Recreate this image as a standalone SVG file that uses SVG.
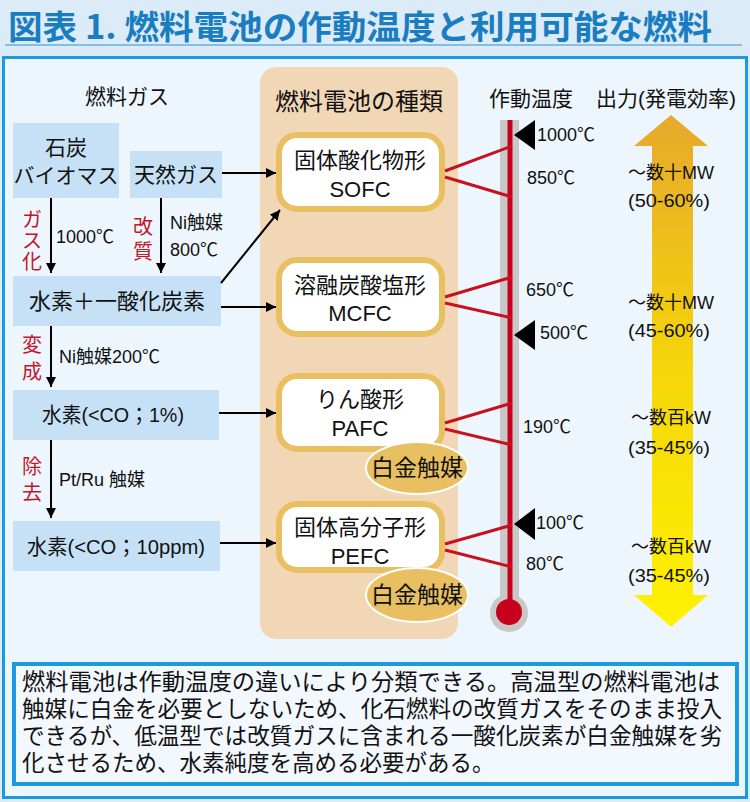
<svg xmlns="http://www.w3.org/2000/svg" width="750" height="802" viewBox="0 0 750 802">
<defs>
<marker id="ah" viewBox="0 0 10 10" refX="10" refY="5" markerWidth="10" markerHeight="10" markerUnits="userSpaceOnUse" orient="auto">
<path d="M0,0 L10,5 L0,10 z" fill="#000"/>
</marker>
<linearGradient id="outg" x1="0" y1="0" x2="0" y2="1">
<stop offset="0" stop-color="#e6a92c"/>
<stop offset="0.5" stop-color="#f5d60a"/>
<stop offset="1" stop-color="#fff200"/>
</linearGradient>
<style>
text{font-family:"Liberation Sans","Noto Sans CJK JP",sans-serif;fill:#111;dominant-baseline:central}
.mid{text-anchor:middle}
.red{fill:#c0182a;font-size:20px}
.lbl{font-size:18px}
.fb{fill:#c6e1f6}
.cn{stroke:#000;stroke-width:2;fill:none}
.rl{stroke:#c8101e;stroke-width:3;fill:none}
.fc{fill:#fff;stroke:#e8c062;stroke-width:6}
.pt{fill:#e8c062;stroke:#fff;stroke-width:2}
.out{font-size:18px;text-anchor:middle}
.pc{font-size:19px;text-anchor:middle}
</style>
</defs>
<rect x="0" y="0" width="750" height="802" fill="#dcebf8"/>
<text x="8" y="25" font-size="33" font-weight="bold" textLength="704" lengthAdjust="spacingAndGlyphs" style="fill:#1a7dc0;font-family:'Noto Sans CJK JP',sans-serif">図表 1. 燃料電池の作動温度と利用可能な燃料</text>
<line x1="5" y1="45" x2="742" y2="45" stroke="#6aaee0" stroke-width="1.5"/>
<rect x="3.5" y="57.5" width="743" height="740" fill="#eef6fd" stroke="#1a9be0" stroke-width="3"/>

<g id="fuel-header"><text class="mid" x="127" y="96" font-size="21">燃料ガス</text></g>

<g id="coal"><rect class="fb" x="13" y="123" width="106" height="75"/>
<text class="mid" x="66" y="147" font-size="21">石炭</text>
<text class="mid" x="66" y="175" font-size="21">バイオマス</text></g>
<g id="natgas"><rect class="fb" x="130" y="151" width="92" height="47"/>
<text class="mid" x="176" y="174" font-size="21">天然ガス</text></g>
<g id="h2co"><rect class="fb" x="13" y="276" width="208" height="50"/>
<text class="mid" x="117" y="301" font-size="22">水素＋一酸化炭素</text></g>
<g id="h2-1"><rect class="fb" x="13" y="390" width="206" height="50"/>
<text class="mid" x="113" y="414" font-size="21" textLength="142" lengthAdjust="spacingAndGlyphs">水素(&lt;CO；1%)</text></g>
<g id="h2-10"><rect class="fb" x="13" y="521" width="207" height="50"/>
<text class="mid" x="116" y="546" font-size="21" textLength="178" lengthAdjust="spacingAndGlyphs">水素(&lt;CO；10ppm)</text></g>

<g id="step-labels">
<text class="red mid" x="32" y="220">ガ</text><text class="red mid" x="32" y="241">ス</text><text class="red mid" x="32" y="262">化</text>
<text class="lbl" x="56" y="237">1000℃</text>
<text class="red mid" x="143" y="227">改</text><text class="red mid" x="143" y="252">質</text>
<text class="lbl" x="170" y="223">Ni触媒</text><text class="lbl" x="170" y="250">800℃</text>
<text class="red mid" x="32" y="345">変</text><text class="red mid" x="32" y="372">成</text>
<text class="lbl" x="59" y="357">Ni触媒200℃</text>
<text class="red mid" x="32" y="467">除</text><text class="red mid" x="32" y="493">去</text>
<text class="lbl" x="59" y="480">Pt/Ru 触媒</text>
</g>

<g id="type-panel"><rect x="260" y="67" width="198" height="572" rx="16" fill="#f2d7b6"/>
<text class="mid" x="359" y="101" font-size="24">燃料電池の種類</text></g>

<g id="sofc"><rect class="fc" x="279" y="135" width="163" height="74" rx="18"/>
<text class="mid" x="360" y="160" font-size="22">固体酸化物形</text>
<text class="mid" x="360" y="189" font-size="22">SOFC</text></g>
<g id="mcfc"><rect class="fc" x="279" y="260" width="163" height="74" rx="18"/>
<text class="mid" x="360" y="285" font-size="22">溶融炭酸塩形</text>
<text class="mid" x="360" y="313" font-size="22">MCFC</text></g>
<g id="pafc"><rect class="fc" x="279" y="376" width="163" height="73" rx="18"/>
<text class="mid" x="360" y="399" font-size="22">りん酸形</text>
<text class="mid" x="360" y="428" font-size="22">PAFC</text>
<ellipse class="pt" cx="417" cy="468" rx="51" ry="26"/>
<text class="mid" x="417" y="468" font-size="23">白金触媒</text></g>
<g id="pefc"><rect class="fc" x="279" y="504" width="163" height="66" rx="18"/>
<text class="mid" x="360" y="527" font-size="22">固体高分子形</text>
<text class="mid" x="360" y="556" font-size="22">PEFC</text>
<ellipse class="pt" cx="417" cy="595" rx="51" ry="27"/>
<text class="mid" x="417" y="595" font-size="23">白金触媒</text></g>

<g id="thermometer">
<text class="mid" x="531" y="98" font-size="21">作動温度</text>
<rect x="500" y="120" width="19" height="495" fill="#c8c8c8"/>
<circle cx="509" cy="613" r="19" fill="#c8c8c8"/>
<line x1="510" y1="120" x2="510" y2="612" stroke="#c8001e" stroke-width="5"/>
<circle cx="509" cy="612" r="13" fill="#c8001e"/>
<path d="M514,135 L535,120 L535,150 z" fill="#000"/>
<path d="M514,335 L535,320 L535,350 z" fill="#000"/>
<path d="M514,524 L535,508 L535,540 z" fill="#000"/>
<text class="lbl" x="537" y="135">1000℃</text>
<text class="lbl" x="527" y="178">850℃</text>
<text class="lbl" x="526" y="290">650℃</text>
<text class="lbl" x="540" y="333">500℃</text>
<text class="lbl" x="523" y="427">190℃</text>
<text class="lbl" x="536" y="523">100℃</text>
<text class="lbl" x="526" y="564">80℃</text>
</g>

<g id="output">
<text x="596" y="98" font-size="21">出力(発電効率)</text>
<path d="M671,115 L708,146 L693,146 L693,595 L708,595 L671,627 L634,595 L652,595 L652,146 L634,146 z" fill="url(#outg)"/>
<text class="out" x="671" y="173">～数十MW</text>
<text class="pc" x="669" y="200" textLength="82" lengthAdjust="spacingAndGlyphs">(50-60%)</text>
<text class="out" x="671" y="303">～数十MW</text>
<text class="pc" x="669" y="330" textLength="82" lengthAdjust="spacingAndGlyphs">(45-60%)</text>
<text class="out" x="671" y="418">～数百kW</text>
<text class="pc" x="669" y="447" textLength="82" lengthAdjust="spacingAndGlyphs">(35-45%)</text>
<text class="out" x="671" y="547">～数百kW</text>
<text class="pc" x="669" y="575" textLength="82" lengthAdjust="spacingAndGlyphs">(35-45%)</text>
</g>

<g id="connectors">
<line class="cn" x1="51" y1="198" x2="51" y2="273" marker-end="url(#ah)"/>
<line class="cn" x1="161" y1="198" x2="161" y2="273" marker-end="url(#ah)"/>
<line class="cn" x1="51" y1="326" x2="51" y2="387" marker-end="url(#ah)"/>
<line class="cn" x1="51" y1="440" x2="51" y2="518" marker-end="url(#ah)"/>
<line class="cn" x1="222" y1="173" x2="276" y2="173" marker-end="url(#ah)"/>
<line class="cn" x1="221" y1="307" x2="276" y2="307" marker-end="url(#ah)"/>
<line class="cn" x1="221" y1="283" x2="280" y2="210" marker-end="url(#ah)"/>
<line class="cn" x1="219" y1="413" x2="276" y2="413" marker-end="url(#ah)"/>
<line class="cn" x1="220" y1="543" x2="276" y2="543" marker-end="url(#ah)"/>
<polyline class="rl" points="512,146 445,171"/>
<polyline class="rl" points="445,177 512,197"/>
<polyline class="rl" points="512,277 445,297"/>
<polyline class="rl" points="445,303 512,318"/>
<polyline class="rl" points="512,403 445,423"/>
<polyline class="rl" points="445,429 512,445"/>
<polyline class="rl" points="512,525 445,544"/>
<polyline class="rl" points="445,550 512,567"/>
</g>

<g id="note">
<rect x="14" y="664" width="723" height="120" fill="#f2f8fe" stroke="#1a9be0" stroke-width="4"/>
<text x="22" y="682" font-size="22.5" textLength="698" lengthAdjust="spacingAndGlyphs">燃料電池は作動温度の違いにより分類できる。高温型の燃料電池は</text>
<text x="22" y="709" font-size="22.5" textLength="700" lengthAdjust="spacingAndGlyphs">触媒に白金を必要としないため、化石燃料の改質ガスをそのまま投入</text>
<text x="22" y="736" font-size="22.5" textLength="700" lengthAdjust="spacingAndGlyphs">できるが、低温型では改質ガスに含まれる一酸化炭素が白金触媒を劣</text>
<text x="22" y="763" font-size="22.5">化させるため、水素純度を高める必要がある。</text>
</g>
</svg>
